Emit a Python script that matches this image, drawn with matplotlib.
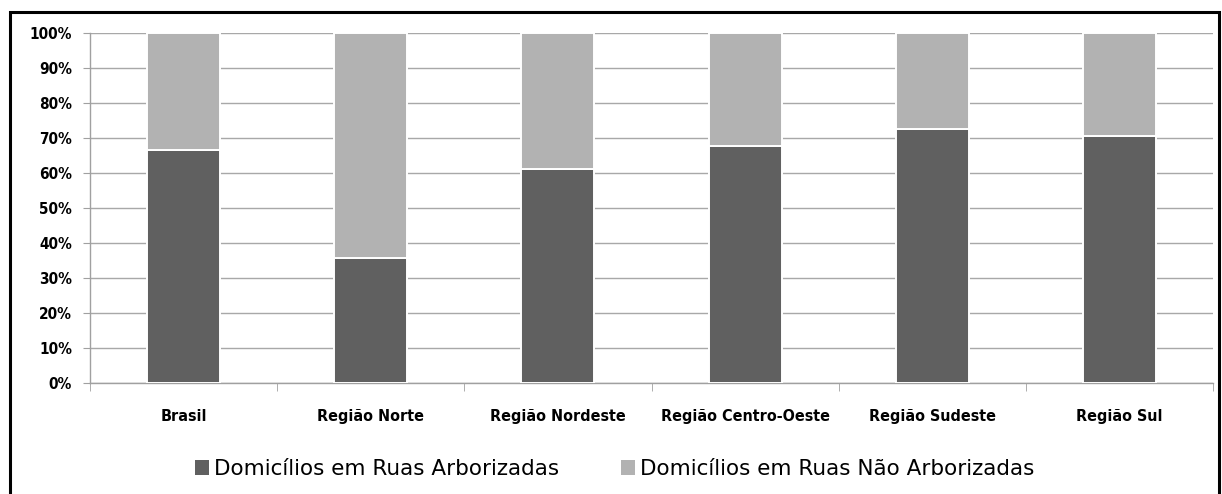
import numpy as np
import matplotlib.pyplot as plt
from matplotlib.patches import Rectangle, Patch
from matplotlib.ticker import PercentFormatter, FixedLocator

REGIOES = ['Brasil', 'Região Norte', 'Região Nordeste', 'Região Centro-Oeste',
           'Região Sudeste', 'Região Sul']
ARBORIZADAS = [66.6, 35.7, 61.1, 67.8, 72.6, 70.6]
NAO_ARBORIZADAS = [100 - v for v in ARBORIZADAS]
SERIES = ['Domicílios em Ruas Arborizadas', 'Domicílios em Ruas Não Arborizadas']

ESCURO = '#606060'
CLARO = '#b2b2b2'

plt.rcParams['font.family'] = ['DejaVu Sans']
plt.rcParams['font.stretch'] = 'condensed'

fig = plt.figure(figsize=(12.22, 4.94), dpi=100)
ax = fig.add_axes([90 / 1222, 1 - 383 / 494, (1213 - 90) / 1222, (383 - 33) / 494])

x = np.arange(len(REGIOES))
ax.bar(x, ARBORIZADAS, width=0.39, color=ESCURO, edgecolor='white', linewidth=1.4, zorder=3)
ax.bar(x, NAO_ARBORIZADAS, width=0.39, bottom=ARBORIZADAS, color=CLARO,
       edgecolor='white', linewidth=1.4, zorder=3)

ax.set_xlim(-0.5, len(REGIOES) - 0.5)
ax.set_ylim(0, 100)
ax.set_yticks(np.arange(0, 101, 10))
ax.yaxis.set_major_formatter(PercentFormatter(decimals=0))
ax.grid(axis='y', color='#a8a8a8', linewidth=1, zorder=0)

ax.set_xticks(x)
ax.set_xticklabels(REGIOES, fontsize=11.5, fontweight='bold')
ax.xaxis.set_minor_locator(FixedLocator(np.arange(-0.5, len(REGIOES), 1)))
ax.tick_params(axis='x', which='major', length=0, pad=19)
ax.tick_params(axis='x', which='minor', length=6, color='#a0a0a0', direction='out')
ax.tick_params(axis='y', length=5, color='#a0a0a0', pad=8, labelsize=11)
for lbl in ax.get_yticklabels():
    lbl.set_fontweight('bold')

for s in ['top', 'right']:
    ax.spines[s].set_visible(False)
for s in ['left', 'bottom']:
    ax.spines[s].set_color('#a0a0a0')
    ax.spines[s].set_linewidth(1)

handles = [Patch(facecolor=ESCURO), Patch(facecolor=CLARO)]
fig.legend(handles, SERIES, loc='center', bbox_to_anchor=(0.503, 1 - 469 / 494),
           ncol=2, frameon=False, handlelength=0.65, handleheight=0.65,
           handletextpad=0.2, columnspacing=2.9,
           prop={'family': 'DejaVu Sans', 'stretch': 'normal', 'size': 15.5})

# moldura preta em volta do gráfico
fig.patches.append(Rectangle((10 / 1222, -0.05), 1209 / 1222, 1.05 - 12 / 494,
                             transform=fig.transFigure, fill=False,
                             edgecolor='black', linewidth=2.2))

fig.savefig('out.png', dpi=100)
